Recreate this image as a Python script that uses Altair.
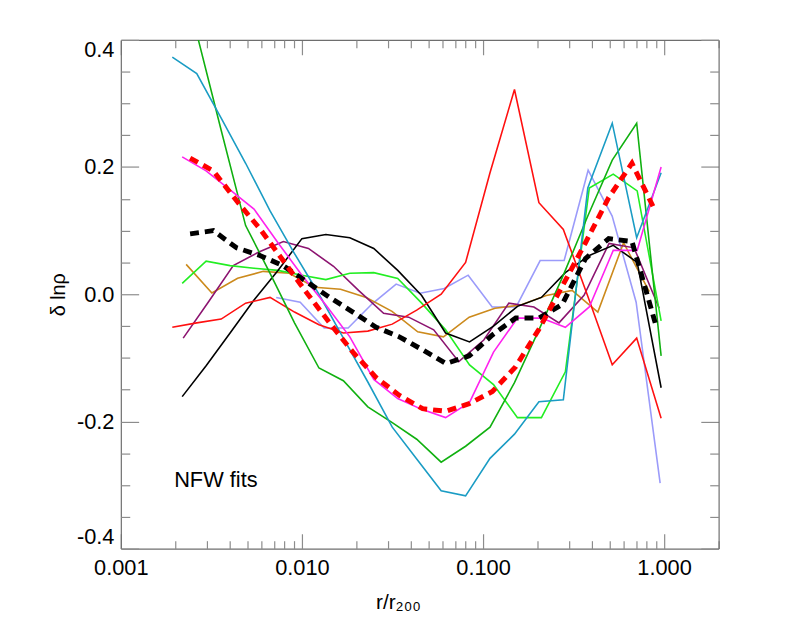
import altair as alt
import pandas as pd

# ---- radial grids (r / r200) ----
r_a = [0.001924, 0.002626, 0.003582, 0.004888, 0.006670, 0.009100, 0.01242, 0.01694, 0.02312, 0.03154,
       0.04304, 0.05873, 0.08014, 0.1093, 0.1492, 0.2036, 0.2777, 0.3790, 0.5172, 0.7056, 0.9629]
r_b = [0.002182, 0.002958, 0.004012, 0.005438, 0.007375, 0.01000, 0.01356, 0.01839, 0.02493, 0.03381,
       0.04584, 0.06216, 0.08426, 0.1143, 0.1550, 0.2101, 0.2849, 0.3863, 0.5238, 0.7102, 0.9629]
r_c = [0.002210, 0.003038, 0.004178, 0.005745, 0.007900, 0.01086, 0.01494, 0.02054, 0.02825, 0.03885,
       0.05342, 0.07345, 0.1010, 0.1389, 0.1910, 0.2627, 0.3612, 0.4967, 0.6830, 0.9391]
r_d = [0.002413, 0.003243, 0.004358, 0.005858, 0.007875, 0.01058, 0.01422, 0.01912, 0.02570, 0.03454,
       0.04642, 0.06241, 0.08386, 0.1127, 0.1515, 0.2036, 0.2737, 0.3679, 0.4944, 0.6646, 0.8933]
r_e = [0.007209, 0.009781, 0.01327, 0.01800, 0.02443, 0.03314, 0.04498, 0.06103, 0.08279, 0.1123,
       0.1524, 0.2068, 0.2806, 0.3807, 0.5166, 0.7008, 0.9508]
r_f = [0.002295, 0.003183, 0.004415, 0.006124, 0.008492, 0.01178, 0.01634, 0.02266, 0.03144, 0.04360,
       0.06047, 0.08388, 0.1164, 0.1614, 0.2238, 0.3105, 0.4306, 0.5972, 0.8285]

# ---- delta ln rho per halo ----
teal = [0.373, 0.347, 0.277, 0.206, 0.131, 0.064, 0.0, -0.069, -0.138, -0.209, -0.259, -0.309, -0.317,
        -0.258, -0.220, -0.169, -0.166, 0.167, 0.269, 0.089, 0.191]
dkgreen = [0.56, 0.41, 0.258, 0.108, 0.033, -0.045, -0.116, -0.136, -0.177, -0.202, -0.228, -0.264,
           -0.239, -0.209, -0.139, -0.056, 0.030, 0.123, 0.211, 0.269, -0.097]
red = [-0.052, -0.045, -0.039, -0.014, -0.005, -0.028, -0.048, -0.061, -0.058, -0.047, -0.025, 0.0,
       0.050, 0.191, 0.322, 0.144, 0.102, -0.003, -0.111, -0.069, -0.195]
black = [-0.161, -0.1125, -0.061, -0.009, 0.0375, 0.0875, 0.094, 0.089, 0.072, 0.0375, -0.002, -0.061,
         -0.075, -0.050, -0.019, -0.005, 0.034, 0.061, 0.077, 0.050, -0.147]
magenta = [0.216, 0.194, 0.164, 0.134, 0.081, 0.030, -0.017, -0.067, -0.134, -0.164, -0.181, -0.194,
           -0.170, -0.091, -0.0375, -0.0375, -0.052, -0.020, 0.069, 0.069, 0.200]
ltgreen = [0.017, 0.052, 0.045, 0.041, 0.0375, 0.030, 0.023, 0.033, 0.034, 0.025, -0.014, -0.056,
           -0.111, -0.142, -0.194, -0.194, -0.122, 0.167, 0.189, 0.1625, -0.042]
purple = [-0.069, -0.0125, 0.045, 0.066, 0.083, 0.072, 0.044, 0.006, -0.030, -0.036, -0.056, -0.106,
          -0.072, -0.014, -0.020, -0.045, -0.0016, 0.080, 0.073, -0.022]
orange = [0.047, 0.002, 0.025, 0.036, 0.033, 0.011, 0.008, -0.005, -0.027, -0.059, -0.067, -0.036,
          -0.022, -0.017, -0.002, 0.006, -0.028, 0.081, 0.004]
lavender = [-0.005, -0.0125, -0.053, -0.053, -0.015, 0.016, 0.0016, 0.009, 0.030, -0.020, -0.020,
            0.053, 0.053, 0.195, 0.123, -0.0125, -0.297]
mean_dash = [0.095, 0.100, 0.073, 0.061, 0.045, 0.020, -0.005, -0.028, -0.052, -0.067, -0.0875, -0.109,
             -0.097, -0.064, -0.0375, -0.0375, -0.016, 0.056, 0.0875, 0.083, -0.045]
fit_dash = [0.214, 0.194, 0.147, 0.103, 0.053, 0.003, -0.045, -0.091, -0.131, -0.159, -0.180, -0.184,
            -0.172, -0.153, -0.114, -0.055, 0.0125, 0.081, 0.152, 0.206, 0.131]

thin_series = [
    ("lavender", r_e, lavender, "#9b9bfa"),
    ("orange", r_f, orange, "#cc8a1c"),
    ("purple", r_c, purple, "#8c1470"),
    ("ltgreen", r_b, ltgreen, "#22ee22"),
    ("black", r_b, black, "#000000"),
    ("red", r_a, red, "#ff1010"),
    ("dkgreen", r_a, dkgreen, "#10b010"),
    ("teal", r_a, teal, "#1a9cc4"),
    ("magenta", r_b, magenta, "#ff22ee"),
]


def frame(series):
    rows = []
    for name, rr, vv, _ in series:
        for i, (a, b) in enumerate(zip(rr, vv)):
            rows.append({"series": name, "r": a, "v": b, "i": i})
    return pd.DataFrame(rows)


df_thin = frame(thin_series)
df_mean = frame([("mean", r_d, mean_dash, "")])
df_fit = frame([("fit", r_d, fit_dash, "")])

label_df = pd.DataFrame({"r": [0.00197], "v": [-0.292], "t": ["NFW fits"]})

W, H = 604, 514
FONT = "Liberation Sans"
FRAME = "#6e6e6e"
TICK = "#8c8c8c"

xs = alt.Scale(type="log", domain=[0.001, 2.0], nice=False)
ys = alt.Scale(domain=[-0.4, 0.4], nice=False, zero=False)

x_major = [0.001, 0.01, 0.1, 1.0]
x_minor = [m * d for d in [0.001, 0.01, 0.1] for m in range(2, 10)] + [2.0]
y_major = [-0.4, -0.2, 0.0, 0.2, 0.4]
y_minor = [-0.35, -0.3, -0.25, -0.15, -0.1, -0.05, 0.05, 0.1, 0.15, 0.25, 0.3, 0.35]

main_x_axis = alt.Axis(values=x_major, format=".3f", ticks=False, tickSize=0, grid=False,
                       domainColor=FRAME, domainWidth=1.2, labelFont=FONT, labelFontSize=22,
                       labelColor="black", labelPadding=9, labelFlush=False,
                       title="r/r₂₀₀", titleFont=FONT, titleFontSize=21, titleFontWeight="normal",
                       titleColor="black", titleX=280, titleY=55, titleBaseline="middle",
                       titleAlign="center")
main_y_axis = alt.Axis(values=y_major, ticks=False, tickSize=0, grid=False,
                       labelExpr="(datum.value < -0.0001 ? '-' : '') + format(abs(datum.value), '.1f')",
                       domainColor=FRAME, domainWidth=1.2, labelFont=FONT, labelFontSize=22,
                       labelColor="black", labelPadding=7, labelFlush=True, labelFlushOffset=0,
                       title="δ lnρ", titleFont=FONT, titleFontSize=20, titleFontWeight="normal",
                       titleColor="black", titlePadding=8)

color_scale = alt.Scale(domain=[s[0] for s in thin_series], range=[s[3] for s in thin_series])

thin = alt.Chart(df_thin).mark_line(clip=True, strokeWidth=1.6).encode(
    x=alt.X("r:Q", scale=xs, axis=main_x_axis),
    y=alt.Y("v:Q", scale=ys, axis=main_y_axis),
    color=alt.Color("series:N", scale=color_scale, legend=None),
    order="i:Q",
)


def dashed_layer(df, col):
    return alt.Chart(df).mark_line(clip=True, strokeWidth=5, strokeDash=[9, 6], strokeCap="butt",
                                   color=col).encode(
        x=alt.X("r:Q", scale=xs, axis=None),
        y=alt.Y("v:Q", scale=ys, axis=None),
        order="i:Q",
    )


mean_line = dashed_layer(df_mean, "#000000")
fit_line = dashed_layer(df_fit, "#ff0000")

text = alt.Chart(label_df).mark_text(align="left", baseline="middle", font=FONT, fontSize=22,
                                     color="black").encode(
    x=alt.X("r:Q", scale=xs, axis=None),
    y=alt.Y("v:Q", scale=ys, axis=None),
    text="t:N",
)


def tick_layer(xorient, yorient, xvals, yvals, xsize, ysize, domain):
    return alt.Chart(df_thin).mark_line(opacity=0).encode(
        x=alt.X("r:Q", scale=xs, axis=alt.Axis(orient=xorient, offset=-H, values=xvals, tickSize=xsize,
                                               labels=False, domain=domain, domainColor=FRAME,
                                               domainWidth=1.2, tickColor=TICK, tickWidth=1.2,
                                               grid=False, title=None)),
        y=alt.Y("v:Q", scale=ys, axis=alt.Axis(orient=yorient, offset=-W, values=yvals, tickSize=ysize,
                                               labels=False, domain=domain, domainColor=FRAME,
                                               domainWidth=1.2, tickColor=TICK, tickWidth=1.2,
                                               grid=False, title=None)),
        detail="series:N",
    )


ticks_in_major = tick_layer("top", "right", x_major, y_major, 15, 18, False)
ticks_in_minor = tick_layer("top", "right", x_minor, y_minor, 8, 9, False)
ticks_out_major = tick_layer("bottom", "left", x_major, y_major, 15, 18, True)
ticks_out_minor = tick_layer("bottom", "left", x_minor, y_minor, 8, 9, False)

chart = alt.layer(
    thin, ticks_in_major, ticks_in_minor, ticks_out_major, ticks_out_minor, mean_line, fit_line, text
).resolve_axis(x="independent", y="independent").properties(
    width=W, height=H,
    autosize=alt.AutoSizeParams(type="none"),
    padding={"left": 114, "top": 29, "right": 60, "bottom": 78},
).configure_view(stroke=None)

chart.save("out.html", embed_options={"renderer": "svg", "actions": False})
